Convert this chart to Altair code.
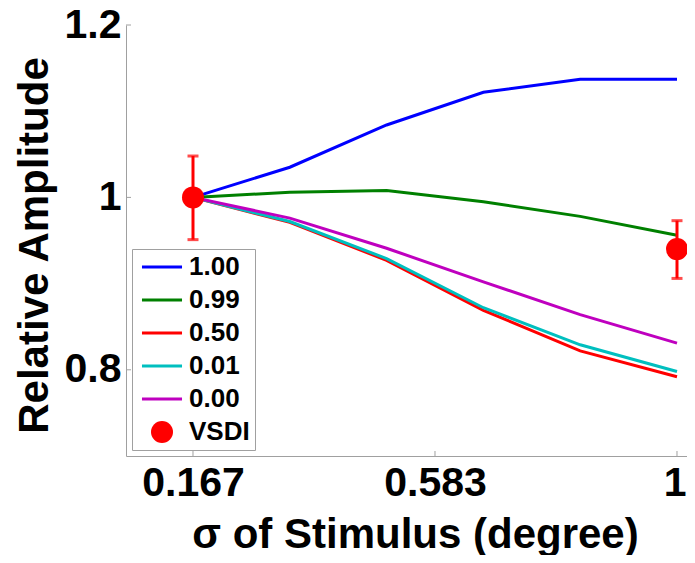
import altair as alt
import pandas as pd

# ---- data ----
x_vals = [1/6, 2/6, 3/6, 4/6, 5/6, 1.0]
series_names = ["1.00", "0.99", "0.50", "0.01", "0.00"]
amp_100 = [1.0, 1.035, 1.084, 1.122, 1.137, 1.137]
amp_099 = [1.0, 1.006, 1.008, 0.995, 0.978, 0.956]
amp_050 = [1.0, 0.971, 0.927, 0.869, 0.822, 0.792]
amp_001 = [1.0, 0.972, 0.929, 0.872, 0.829, 0.798]
amp_000 = [1.0, 0.976, 0.941, 0.902, 0.864, 0.831]
vsdi_x = [1/6, 1.0]
vsdi_y = [1.0, 0.940]
vsdi_lo = [0.951, 0.906]
vsdi_hi = [1.048, 0.973]
x_ticks = [1/6, 3.5/6, 1.0]
y_ticks = [0.8, 1.0, 1.2]
legend_order = series_names + ["VSDI"]
colors = ["#0000ff", "#008000", "#ff0000", "#00bfbf", "#bf00bf", "#ff0000"]

series_values = [amp_100, amp_099, amp_050, amp_001, amp_000]
rows = []
for name, vals in zip(series_names, series_values):
    for xv, yv in zip(x_vals, vals):
        rows.append({"series": name, "sigma": xv, "amp": yv})
df_lines = pd.DataFrame(rows)
df_vsdi = pd.DataFrame({"series": ["VSDI"] * len(vsdi_x), "sigma": vsdi_x,
                        "amp": vsdi_y, "lo": vsdi_lo, "hi": vsdi_hi})
df_xt = pd.DataFrame({"sigma": x_ticks})
df_yt = pd.DataFrame({"amp": y_ticks})

FONT = "Liberation Sans"
GRAY = "#a0a0a0"
W, H = 561, 431

xscale = alt.Scale(domain=[0.05131, 1.01722], nice=False, zero=False)
yscale = alt.Scale(domain=[0.7, 1.2], nice=False, zero=False)

xaxis = alt.Axis(values=x_ticks, format=".3~f", grid=False, ticks=False, tickSize=0,
                 domainColor=GRAY, domainWidth=1,
                 labelFont=FONT, labelFontSize=41, labelFontWeight="bold",
                 labelColor="black", labelPadding=7, labelFlush=False, labelOverlap=False,
                 labelAlign={"condition": {"test": "datum.value >= 0.99", "value": "right"},
                             "value": "center"},
                 labelOffset={"condition": {"test": "datum.value >= 0.99", "value": 9},
                              "value": 0},
                 title="σ of Stimulus (degree)", titleFont=FONT, titleFontSize=42,
                 titleFontWeight="bold", titleColor="black", titleX=289, titleY=91,
                 titleBaseline="alphabetic", titleAlign="center")
yaxis = alt.Axis(values=y_ticks, format=".1~f", grid=False, ticks=False, tickSize=0,
                 domainColor=GRAY, domainWidth=1,
                 labelFont=FONT, labelFontSize=41, labelFontWeight="bold",
                 labelColor="black", labelPadding=5, labelFlush=False, labelOverlap=False,
                 labelBaseline="middle",
                 title="Relative Amplitude", titleFont=FONT, titleFontSize=42,
                 titleFontWeight="bold", titleColor="black", titleAngle=270,
                 titleX=-79, titleY=220, titleBaseline="alphabetic", titleAlign="center")

color_scale = alt.Scale(domain=legend_order, range=colors)
# thin filled bar for line entries, circle for the VSDI entry
bar_path = "M-1.82,-0.14L1.82,-0.14L1.82,0.14L-1.82,0.14Z"
shape_scale = alt.Scale(domain=legend_order, range=[bar_path] * 5 + ["circle"])

legend = alt.Legend(
    title=None, orient="none", legendX=6, legendY=224, direction="vertical",
    strokeColor=GRAY, fillColor="white", padding=5,
    labelFont=FONT, labelFontSize=26, labelFontWeight="bold", labelColor="black",
    labelExpr="datum.label + '\u2002\u2002'",
    symbolSize=484, symbolStrokeWidth=0, symbolOffset=12, labelOffset=14,
    rowPadding=7, symbolLimit=0, symbolOpacity=1,
)

X = alt.X("sigma:Q", scale=xscale, axis=xaxis)
Y = alt.Y("amp:Q", scale=yscale, axis=yaxis)

lines = alt.Chart(df_lines).mark_line(strokeWidth=3).encode(
    x=X, y=Y,
    color=alt.Color("series:N", scale=color_scale, legend=legend),
)

err = alt.Chart(df_vsdi).mark_rule(color="#ff0000", strokeWidth=3).encode(
    x=X, y=alt.Y("lo:Q", scale=yscale, axis=yaxis), y2="hi:Q")
cap_lo = alt.Chart(df_vsdi).mark_tick(color="#ff0000", orient="horizontal",
                                      size=11, thickness=3).encode(
    x=X, y=alt.Y("lo:Q", scale=yscale, axis=yaxis))
cap_hi = alt.Chart(df_vsdi).mark_tick(color="#ff0000", orient="horizontal",
                                      size=11, thickness=3).encode(
    x=X, y=alt.Y("hi:Q", scale=yscale, axis=yaxis))

dots = alt.Chart(df_vsdi).mark_point(filled=True, size=484, opacity=1,
                                     strokeWidth=0).encode(
    x=X, y=Y,
    color=alt.Color("series:N", scale=color_scale, legend=legend),
    shape=alt.Shape("series:N", scale=shape_scale, legend=legend),
)

xt = alt.Chart(df_xt).mark_rule(color=GRAY, strokeWidth=1).encode(
    x=X, y=alt.value(H), y2=alt.value(H - 5))
yt = alt.Chart(df_yt).mark_rule(color=GRAY, strokeWidth=1).encode(
    y=Y, x=alt.value(0), x2=alt.value(5))

chart = alt.layer(xt, yt, lines, err, cap_lo, cap_hi, dots).properties(
    width=W, height=H,
    autosize=alt.AutoSizeParams(type="none"),
    padding={"left": 118, "top": 17, "right": 0, "bottom": 99},
    background="white",
).configure_view(stroke=None)

chart.save("out.html", embed_options={"renderer": "svg", "actions": False})
